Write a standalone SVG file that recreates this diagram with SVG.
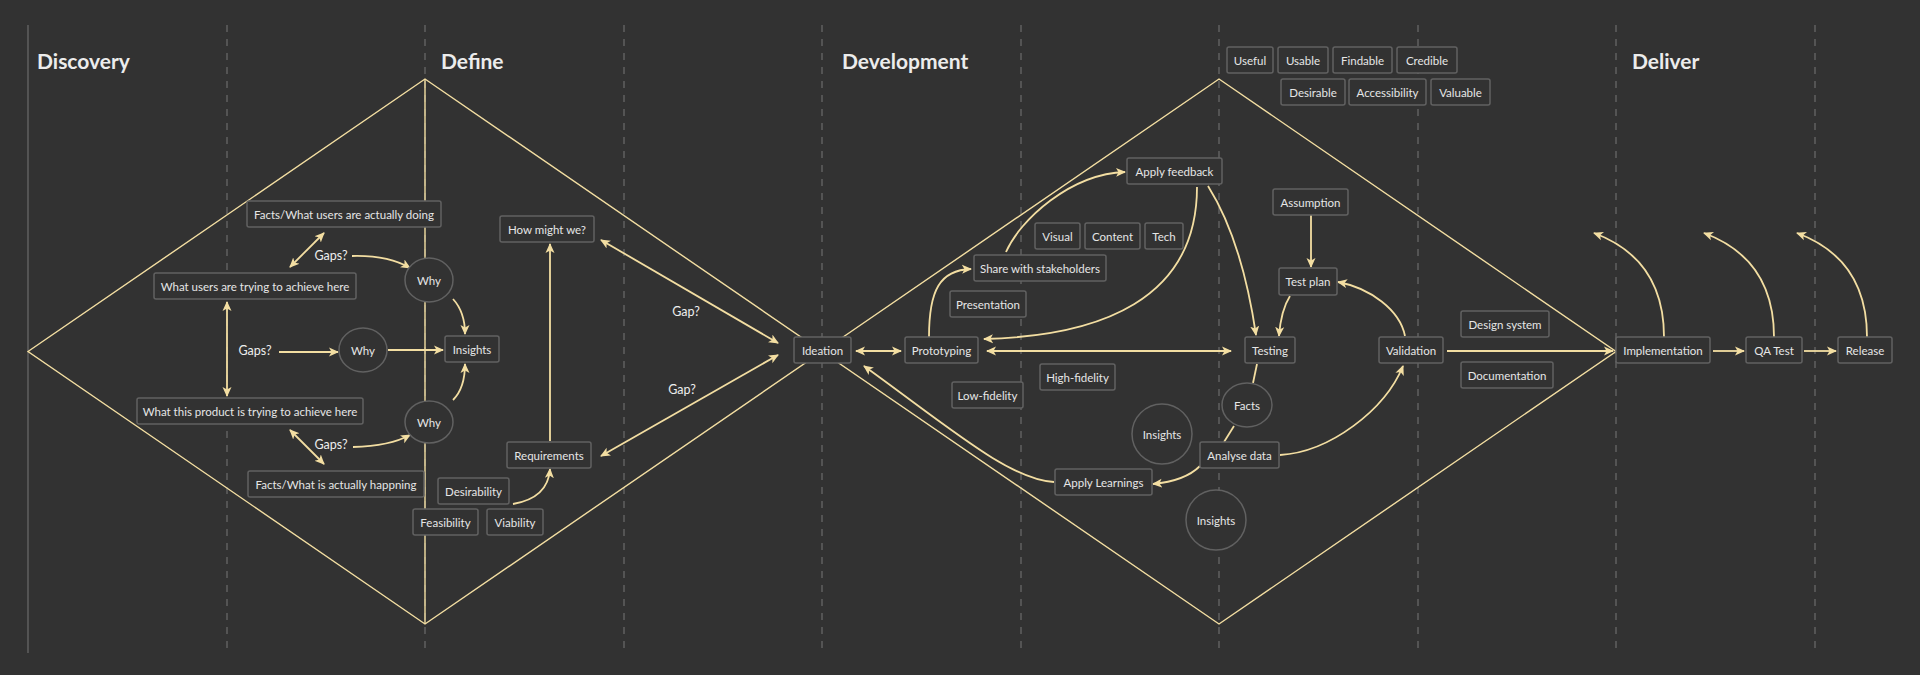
<svg xmlns="http://www.w3.org/2000/svg" width="1920" height="675" viewBox="0 0 1920 675">
<defs>
<marker id="ah" viewBox="0 0 10 10" refX="9" refY="5" markerWidth="10" markerHeight="10" markerUnits="userSpaceOnUse" orient="auto-start-reverse">
<path d="M0,0.5 L10,5 L0,9.5 L2.5,5 Z" fill="#f3dea2"/>
</marker>
<style>
.bg{fill:#323232}
.grid{stroke:#676767;stroke-width:1.3;stroke-dasharray:7 7;fill:none}
.frame{stroke:#676767;stroke-width:1.3;fill:none}
.dia{stroke:#f3dea2;stroke-width:1.4;fill:none}
.c{stroke:#f3dea2;stroke-width:1.8;fill:none}
.a{marker-end:url(#ah)}
.aa{marker-start:url(#ah);marker-end:url(#ah)}
.box{fill:#323232;stroke:#616161;stroke-width:1.5}
.t{font-family:Lato,"Liberation Sans",sans-serif;font-size:11.5px;fill:#e6e6e6;text-anchor:middle;dominant-baseline:central}
.lbl{font-family:Lato,"Liberation Sans",sans-serif;font-size:12.5px;fill:#eeeeee;text-anchor:middle;dominant-baseline:central}
.h{font-family:Lato,"Liberation Sans",sans-serif;font-size:21px;font-weight:bold;fill:#ececec}
</style>
</defs>
<rect class="bg" x="0" y="0" width="1920" height="675"/>
<g id="grid">
<line class="frame" x1="28" y1="25" x2="28" y2="653"/>
<line class="grid" x1="227" y1="25" x2="227" y2="653"/>
<line class="grid" x1="425" y1="25" x2="425" y2="653"/>
<line class="grid" x1="624" y1="25" x2="624" y2="653"/>
<line class="grid" x1="822" y1="25" x2="822" y2="653"/>
<line class="grid" x1="1021" y1="25" x2="1021" y2="653"/>
<line class="grid" x1="1219" y1="25" x2="1219" y2="653"/>
<line class="grid" x1="1418" y1="25" x2="1418" y2="653"/>
<line class="grid" x1="1616" y1="25" x2="1616" y2="653"/>
<line class="grid" x1="1815" y1="25" x2="1815" y2="653"/>
</g>
<g id="headings">
<text class="h" x="37" y="69">Discovery</text>
<text class="h" x="441" y="69">Define</text>
<text class="h" x="842" y="69">Development</text>
<text class="h" x="1632" y="69">Deliver</text>
</g>
<g id="diamonds">
<polygon class="dia" points="28,351.5 425,79 822,351.5 425,624"/>
<line class="dia" x1="425" y1="79" x2="425" y2="624"/>
<polygon class="dia" points="822,351.5 1219,79 1616,351.5 1219,624"/>
</g>
<g id="connectors">
<path class="c aa" d="M324,233 L290,267"/>
<path class="c a" d="M352,256 Q388,255 410,268"/>
<path class="c a" d="M453,299 Q465,312 465,334"/>
<path class="c aa" d="M227,302 L227,396"/>
<path class="c a" d="M279,352 L338,352"/>
<path class="c a" d="M388,350 L443,350"/>
<path class="c a" d="M453,400 Q465,388 465,364"/>
<path class="c a" d="M353,447 Q390,446 410,435"/>
<path class="c aa" d="M290,430 L324,464"/>
<path class="c a" d="M513,504 Q548,498 550,469"/>
<path class="c a" d="M550,441 L550,244"/>
<path class="c aa" d="M601,240 L778,343"/>
<path class="c aa" d="M601,456 L778,355"/>
<path class="c aa" d="M856,351 L901,351"/>
<path class="c aa" d="M987,351 L1231,351"/>
<path class="c a" d="M929,337 C929,290 940,270 971,269"/>
<path class="c a" d="M1006,252 C1020,220 1070,174 1125,172"/>
<path class="c a" d="M1197,187 C1197,300 1100,336 984,339"/>
<path class="c a" d="M1208,186 Q1242,240 1256,335"/>
<path class="c" d="M1257,364 L1253,383"/>
<path class="c" d="M1234,426 L1224,442"/>
<path class="c a" d="M1200,466 Q1185,481 1153,484"/>
<path class="c a" d="M1054,482 C1010,480 950,428 864,366"/>
<path class="c a" d="M1280,455 C1330,452 1385,410 1403,366"/>
<path class="c a" d="M1405,336 C1400,310 1370,288 1338,282"/>
<path class="c a" d="M1311,215 L1311,267"/>
<path class="c a" d="M1290,296 Q1281,310 1279,336"/>
<path class="c a" d="M1447,351 L1613,351"/>
<path class="c a" d="M1713,351 L1744,351"/>
<path class="c a" d="M1804,351 L1836,351"/>
<path class="c a" d="M1664,337 C1664,290 1645,252 1594,233"/>
<path class="c a" d="M1774,337 C1774,290 1755,252 1704,233"/>
<path class="c a" d="M1867,337 C1867,290 1848,252 1797,233"/>
</g>
<g id="labels">
<text class="lbl" x="331" y="255">Gaps?</text>
<text class="lbl" x="255" y="350">Gaps?</text>
<text class="lbl" x="331" y="444">Gaps?</text>
<text class="lbl" x="686" y="311">Gap?</text>
<text class="lbl" x="682" y="389">Gap?</text>
</g>
<g id="n-facts-doing"><rect class="box" x="247" y="201" width="194" height="26" rx="2"/><text class="t" x="344" y="214">Facts/What users are actually doing</text></g>
<g id="n-how-might-we"><rect class="box" x="500" y="216" width="94" height="26" rx="2"/><text class="t" x="547" y="229">How might we?</text></g>
<g id="n-users-trying"><rect class="box" x="154" y="273" width="202" height="26" rx="2"/><text class="t" x="255" y="286">What users are trying to achieve here</text></g>
<g id="n-insights-define"><rect class="box" x="445" y="336" width="54" height="26" rx="2"/><text class="t" x="472" y="349">Insights</text></g>
<g id="n-product-trying"><rect class="box" x="137" y="398" width="226" height="26" rx="2"/><text class="t" x="250" y="411">What this product is trying to achieve here</text></g>
<g id="n-facts-happening"><rect class="box" x="248" y="471" width="176" height="26" rx="2"/><text class="t" x="336" y="484">Facts/What is actually happning</text></g>
<g id="n-requirements"><rect class="box" x="507" y="442" width="84" height="26" rx="2"/><text class="t" x="549" y="455">Requirements</text></g>
<g id="n-desirability"><rect class="box" x="438" y="478" width="71" height="26" rx="2"/><text class="t" x="473.5" y="491">Desirability</text></g>
<g id="n-feasibility"><rect class="box" x="413" y="509" width="65" height="26" rx="2"/><text class="t" x="445.5" y="522">Feasibility</text></g>
<g id="n-viability"><rect class="box" x="487" y="509" width="56" height="26" rx="2"/><text class="t" x="515" y="522">Viability</text></g>
<g id="n-why1"><ellipse class="box" cx="429" cy="280" rx="24" ry="22"/><text class="t" x="429" y="280">Why</text></g>
<g id="n-why2"><ellipse class="box" cx="363" cy="350" rx="24" ry="22"/><text class="t" x="363" y="350">Why</text></g>
<g id="n-why3"><ellipse class="box" cx="429" cy="422" rx="24" ry="21"/><text class="t" x="429" y="422">Why</text></g>
<g id="n-ideation"><rect class="box" x="794" y="337" width="57" height="26" rx="2"/><text class="t" x="822.5" y="350">Ideation</text></g>
<g id="n-prototyping"><rect class="box" x="905" y="337" width="73" height="26" rx="2"/><text class="t" x="941.5" y="350">Prototyping</text></g>
<g id="n-apply-feedback"><rect class="box" x="1127" y="158" width="95" height="26" rx="2"/><text class="t" x="1174.5" y="171">Apply feedback</text></g>
<g id="n-visual"><rect class="box" x="1035" y="223" width="45" height="26" rx="2"/><text class="t" x="1057.5" y="236">Visual</text></g>
<g id="n-content"><rect class="box" x="1085" y="223" width="55" height="26" rx="2"/><text class="t" x="1112.5" y="236">Content</text></g>
<g id="n-tech"><rect class="box" x="1145" y="223" width="38" height="26" rx="2"/><text class="t" x="1164" y="236">Tech</text></g>
<g id="n-share"><rect class="box" x="974" y="255" width="132" height="26" rx="2"/><text class="t" x="1040" y="268">Share with stakeholders</text></g>
<g id="n-presentation"><rect class="box" x="950" y="291" width="76" height="26" rx="2"/><text class="t" x="988" y="304">Presentation</text></g>
<g id="n-high-fidelity"><rect class="box" x="1040" y="364" width="75" height="26" rx="2"/><text class="t" x="1077.5" y="377">High-fidelity</text></g>
<g id="n-low-fidelity"><rect class="box" x="952" y="382" width="71" height="26" rx="2"/><text class="t" x="987.5" y="395">Low-fidelity</text></g>
<g id="n-testing"><rect class="box" x="1245" y="337" width="50" height="26" rx="2"/><text class="t" x="1270" y="350">Testing</text></g>
<g id="n-facts"><ellipse class="box" cx="1247" cy="405" rx="25" ry="22"/><text class="t" x="1247" y="405">Facts</text></g>
<g id="n-insights1"><circle class="box" cx="1162" cy="434" r="30"/><text class="t" x="1162" y="434">Insights</text></g>
<g id="n-insights2"><circle class="box" cx="1216" cy="520" r="30"/><text class="t" x="1216" y="520">Insights</text></g>
<g id="n-analyse"><rect class="box" x="1200" y="442" width="79" height="26" rx="2"/><text class="t" x="1239.5" y="455">Analyse data</text></g>
<g id="n-apply-learnings"><rect class="box" x="1055" y="469" width="97" height="26" rx="2"/><text class="t" x="1103.5" y="482">Apply Learnings</text></g>
<g id="n-useful"><rect class="box" x="1227" y="47" width="46" height="26" rx="2"/><text class="t" x="1250" y="60">Useful</text></g>
<g id="n-usable"><rect class="box" x="1278" y="47" width="50" height="26" rx="2"/><text class="t" x="1303" y="60">Usable</text></g>
<g id="n-findable"><rect class="box" x="1333" y="47" width="59" height="26" rx="2"/><text class="t" x="1362.5" y="60">Findable</text></g>
<g id="n-credible"><rect class="box" x="1397" y="47" width="60" height="26" rx="2"/><text class="t" x="1427" y="60">Credible</text></g>
<g id="n-desirable"><rect class="box" x="1281" y="79" width="64" height="26" rx="2"/><text class="t" x="1313" y="92">Desirable</text></g>
<g id="n-accessibility"><rect class="box" x="1349" y="79" width="77" height="26" rx="2"/><text class="t" x="1387.5" y="92">Accessibility</text></g>
<g id="n-valuable"><rect class="box" x="1431" y="79" width="59" height="26" rx="2"/><text class="t" x="1460.5" y="92">Valuable</text></g>
<g id="n-assumption"><rect class="box" x="1273" y="189" width="75" height="26" rx="2"/><text class="t" x="1310.5" y="202">Assumption</text></g>
<g id="n-test-plan"><rect class="box" x="1279" y="268" width="58" height="27" rx="2"/><text class="t" x="1308" y="281.5">Test plan</text></g>
<g id="n-validation"><rect class="box" x="1379" y="337" width="64" height="26" rx="2"/><text class="t" x="1411" y="350">Validation</text></g>
<g id="n-design-system"><rect class="box" x="1461" y="311" width="88" height="26" rx="2"/><text class="t" x="1505" y="324">Design system</text></g>
<g id="n-documentation"><rect class="box" x="1461" y="362" width="92" height="26" rx="2"/><text class="t" x="1507" y="375">Documentation</text></g>
<g id="n-implementation"><rect class="box" x="1616" y="337" width="94" height="26" rx="2"/><text class="t" x="1663" y="350">Implementation</text></g>
<g id="n-qa-test"><rect class="box" x="1746" y="337" width="56" height="26" rx="2"/><text class="t" x="1774" y="350">QA Test</text></g>
<g id="n-release"><rect class="box" x="1838" y="337" width="54" height="26" rx="2"/><text class="t" x="1865" y="350">Release</text></g>
</svg>
